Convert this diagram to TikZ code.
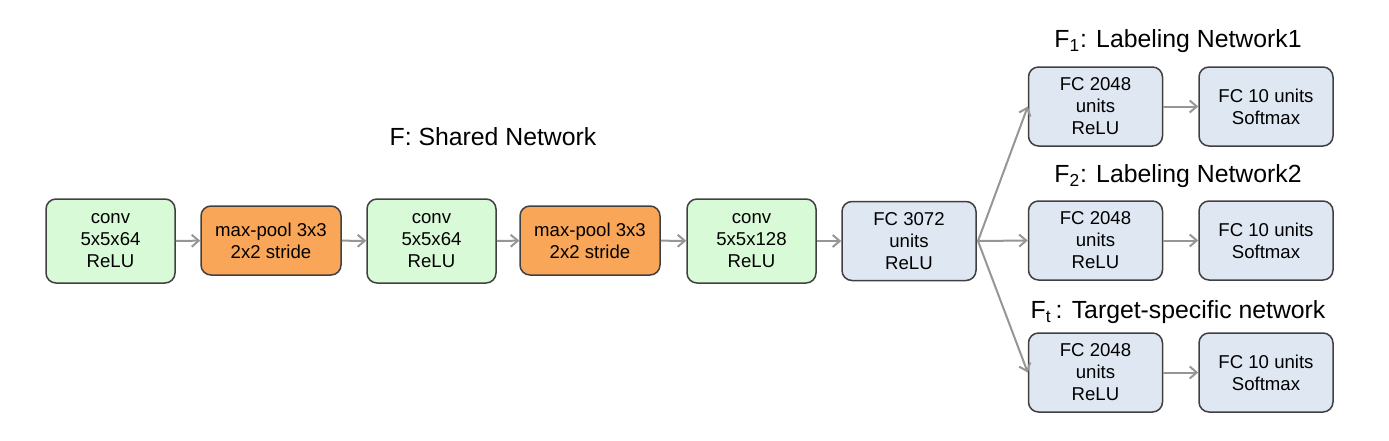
\documentclass[tikz,border=0pt]{standalone}
\usepackage{fontspec}
\setmainfont{Liberation Sans}
\usetikzlibrary{arrows.meta}
\definecolor{gfill}{RGB}{216,250,214}
\definecolor{ofill}{RGB}{250,166,88}
\definecolor{bfill}{RGB}{222,231,242}
\definecolor{bord}{RGB}{64,64,64}
\definecolor{arr}{RGB}{150,150,150}
\begin{document}
\begin{tikzpicture}[x=0.5pt,y=-0.5pt,
  box/.style={draw=bord,line width=0.75pt,rounded corners=5pt,align=center,
    font=\fontsize{9.3}{11}\selectfont,inner sep=0pt},
  conv/.style={box,fill=gfill,minimum width=64.5pt,minimum height=42pt},
  pool/.style={box,fill=ofill,minimum width=70pt,minimum height=34.5pt},
  fc/.style={box,fill=bfill,minimum width=67pt,minimum height=39.5pt},
  ttl/.style={font=\fontsize{12.4}{14}\selectfont},
  link/.style={draw=arr,line width=1pt,-{Straight Barb[length=3.5pt,width=6pt]}}]
\useasboundingbox (0,0) rectangle (1389,440);
\node[conv] (c1) at (110.5,241) {conv\\5x5x64\\ReLU};
\node[pool] (p1) at (271,240.5) {max-pool 3x3\\2x2 stride};
\node[conv] (c2) at (431.5,241) {conv\\5x5x64\\ReLU};
\node[pool] (p2) at (590,240.5) {max-pool 3x3\\2x2 stride};
\node[conv] (c3) at (751.5,241) {conv\\5x5x128\\ReLU};
\node[fc] (f3) at (909,241) {FC 3072\\units\\ReLU};
\node[fc] (a1) at (1095.5,106.5) {FC 2048\\units\\ReLU};
\node[fc] (b1) at (1266,106.5) {FC 10 units\\Softmax};
\node[fc] (a2) at (1095.5,240.5) {FC 2048\\units\\ReLU};
\node[fc] (b2) at (1266,240.5) {FC 10 units\\Softmax};
\node[fc] (a3) at (1095.5,372.5) {FC 2048\\units\\ReLU};
\node[fc] (b3) at (1266,372.5) {FC 10 units\\Softmax};
\node[ttl] (t0) at (493,137) {F: Shared Network};
\node[ttl] (t1) at (1178,41) {F\textsubscript{1}: Labeling Network1};
\node[ttl] (t2) at (1178,176) {F\textsubscript{2}: Labeling Network2};
\node[ttl] (t3) at (1178,312) {F\textsubscript{t}\,: Target-specific network};
\draw[link] (c1) -- (p1);
\draw[link] (p1) -- (c2);
\draw[link] (c2) -- (p2);
\draw[link] (p2) -- (c3);
\draw[link] (c3) -- (f3);
\coordinate (br) at (978,241);
\draw[link] (f3.east) -- (br) -- (a1.west);
\draw[link] (br) -- (a2.west);
\draw[link] (br) -- (a3.west);
\draw[link] (a1) -- (b1);
\draw[link] (a2) -- (b2);
\draw[link] (a3) -- (b3);
\end{tikzpicture}
\end{document}
